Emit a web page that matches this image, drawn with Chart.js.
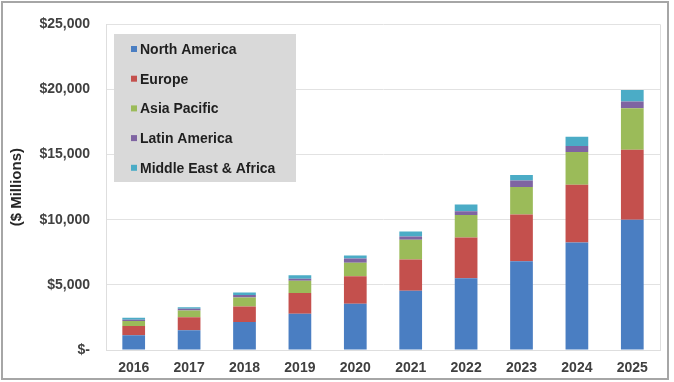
<!DOCTYPE html>
<html>
<head>
<meta charset="utf-8">
<script src="https://cdn.jsdelivr.net/npm/chart.js@4.4.0/dist/chart.umd.min.js"></script>
<style>
  html, body { margin: 0; padding: 0; background: #fff; }
  #wrap { width: 674px; height: 382px; position: relative; }
</style>
</head>
<body>
<div id="wrap"><canvas id="marketChart" width="674" height="382"></canvas></div>
<script>
const years = ["2016", "2017", "2018", "2019", "2020", "2021", "2022", "2023", "2024", "2025"];

// values in $ millions
const northAmerica = [1140, 1520, 2150, 2780, 3550, 4550, 5510, 6820, 8260, 10000];
const europe = [700, 1000, 1190, 1590, 2110, 2400, 3130, 3590, 4420, 5370];
const asiaPacific = [380, 510, 700, 940, 1030, 1520, 1720, 2100, 2530, 3200];
const latinAmerica = [100, 130, 180, 170, 340, 250, 300, 500, 460, 510];
const middleEastAfrica = [160, 120, 200, 260, 220, 380, 510, 430, 700, 880];

const yTicks = [0, 5000, 10000, 15000, 20000, 25000];

const seriesNames = ["North America", "Europe", "Asia Pacific", "Latin America", "Middle East & Africa"];
const seriesColors = ["#4a7ec2", "#c4504d", "#9bbb59", "#7f64a2", "#4bacc6"];

const textFont = "'Liberation Sans', Arial, sans-serif";

// white page + outer grey frame
const framePlugin = {
    id: "frame",
    beforeDraw(chart) {
        const ctx = chart.ctx;
        ctx.save();
        ctx.fillStyle = "#fff";
        ctx.fillRect(0, 0, chart.width, chart.height);
        ctx.strokeStyle = "#a6a6a6";
        ctx.lineWidth = 2;
        ctx.strokeRect(2, 2, 666, 377);
        ctx.restore();
    },
    afterDatasetsDraw(chart) {
        // thin border round the plot area (right side is not drawn by the scales)
        const a = chart.chartArea;
        const ctx = chart.ctx;
        ctx.save();
        ctx.strokeStyle = "#dedede";
        ctx.lineWidth = 1;
        ctx.beginPath();
        ctx.moveTo(Math.round(a.right) + 0.5, a.top);
        ctx.lineTo(Math.round(a.right) + 0.5, a.bottom);
        ctx.stroke();
        ctx.restore();
    },
};

// grey legend box sitting inside the plot
const boxLegend = {
    id: "boxLegend",
    afterDraw(chart) {
        const ctx = chart.ctx;
        ctx.save();
        ctx.fillStyle = "#d9d9d9";
        ctx.fillRect(114, 34, 182, 148);
        ctx.font = "bold 14px " + textFont;
        ctx.textBaseline = "middle";
        chart.data.datasets.forEach((ds, i) => {
            const y = 49 + i * 29.7;
            ctx.fillStyle = ds.backgroundColor;
            ctx.fillRect(131, y - 3, 6, 6);
            ctx.fillStyle = "#1f1f1f";
            ctx.fillText(ds.label, 140, y + 1);
        });
        ctx.restore();
    },
};

const seriesData = [northAmerica, europe, asiaPacific, latinAmerica, middleEastAfrica];

new Chart(document.getElementById("marketChart"), {
    type: "bar",
    data: {
        labels: years,
        datasets: seriesNames.map((name, i) => ({
            label: name,
            data: seriesData[i],
            backgroundColor: seriesColors[i],
            categoryPercentage: 1,
            barPercentage: 0.41,
        })),
    },
    options: {
        responsive: false,
        animation: false,
        layout: { padding: { top: 19, right: 14, bottom: 0, left: 0 } },
        plugins: {
            legend: { display: false },
            tooltip: { enabled: false },
        },
        scales: {
            x: {
                stacked: true,
                grid: { display: false, drawTicks: false },
                border: { display: true, color: "#dedede" },
                ticks: {
                    padding: 10,
                    color: "#404040",
                    font: { family: textFont, size: 14, weight: "bold" },
                },
                afterFit(scale) { scale.height = 32; },
            },
            y: {
                stacked: true,
                min: 0,
                max: 25000,
                afterBuildTicks(scale) {
                    scale.ticks = yTicks.map((v) => ({ value: v }));
                },
                grid: { color: "#e2e2e2", drawTicks: false },
                border: { display: true, color: "#dedede" },
                ticks: {
                    padding: 16,
                    color: "#404040",
                    font: { family: textFont, size: 14, weight: "bold" },
                    callback: (v) => (v === 0 ? "$-" : "$" + v.toLocaleString("en-US")),
                },
                title: {
                    display: true,
                    text: "($ Millions)",
                    color: "#262626",
                    padding: { top: 8, bottom: 0 },
                    font: { family: textFont, size: 15, weight: "bold" },
                },
                afterFit(scale) { scale.width = 106; },
            },
        },
    },
    plugins: [framePlugin, boxLegend],
});
</script>
</body>
</html>
